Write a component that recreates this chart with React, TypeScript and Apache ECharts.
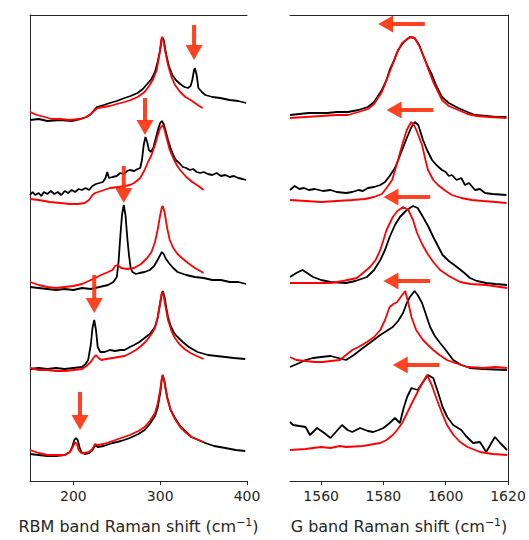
import React, { useEffect, useRef } from "react";
import * as echarts from "echarts";

// ---- RBM band (left panel), [Raman shift, stacked intensity] ----
const rbm1Black: number[][] = [[150,361],[160,362],[170,360],[185,361],[198,360],[208,362],[215,364],[219,366],[224,371],[227,374],[235,376],[242,378],[250,380],[259,383],[266,385],[274,388],[280,392],[286,398],[290,402],[294,409],[297,419],[300,431],[302,444],[304,441],[307,426],[310,415],[314,406],[318,401],[323,397],[328,394],[332,393],[335,395],[337,401],[339,411],[340,413],[342,406],[344,393],[348,389],[352,386],[360,384],[369,383],[380,381],[390,380],[399,378]];
const rbm1Red: number[][] = [[150,369],[158,366],[167,364],[175,362],[185,362],[195,361],[208,362],[215,364],[220,367],[225,371],[228,373],[235,374],[242,375],[250,377],[259,379],[266,381],[274,384],[282,389],[288,396],[292,402],[296,411],[299,426],[301,439],[302,444],[304,439],[306,429],[309,416],[313,404],[317,396],[323,389],[329,384],[335,381],[340,378],[345,375],[349,373]];
const rbm2Black: number[][] = [[150,286],[153,289],[156,286],[160,288],[163,285],[166,289],[170,287],[174,290],[178,287],[182,289],[186,286],[190,290],[194,288],[198,291],[202,289],[206,292],[210,291],[214,293],[218,291],[222,295],[226,297],[230,298],[234,299],[237,303],[239,309],[241,303],[245,304],[250,305],[254,308],[258,307],[262,310],[265,311],[270,310],[274,312],[277,313],[279,321],[281,336],[283,344],[285,339],[287,331],[289,329],[292,333],[295,343],[298,353],[300,358],[302,360],[304,357],[306,351],[309,341],[312,333],[315,326],[318,321],[322,318],[326,314],[330,313],[334,311],[338,312],[342,309],[346,308],[350,309],[355,307],[360,306],[365,308],[370,305],[375,306],[380,304],[385,305],[390,303],[395,302],[399,301]];
const rbm2Red: number[][] = [[150,282],[160,281],[173,279],[185,278],[196,277],[205,277],[213,278],[218,281],[222,286],[225,288],[232,290],[242,293],[252,294],[260,295],[265,296],[270,298],[277,303],[282,311],[286,319],[290,326],[294,336],[297,345],[300,353],[303,356],[305,351],[308,341],[311,331],[315,323],[319,316],[323,311],[330,304],[337,299],[344,295],[350,291]];
const rbm3Black: number[][] = [[150,194],[160,193],[170,192],[180,191],[190,192],[200,191],[210,193],[220,192],[230,194],[240,196],[246,199],[250,204],[252,219],[254,244],[256,266],[258,276],[260,266],[262,244],[264,226],[266,213],[268,209],[272,207],[276,208],[282,209],[288,211],[293,215],[297,221],[300,226],[302,229],[304,227],[306,223],[310,218],[315,213],[320,209],[330,206],[340,204],[350,203],[360,201],[370,201],[380,199],[390,199],[399,197]];
const rbm3Red: number[][] = [[150,199],[160,196],[170,194],[180,193],[190,194],[200,195],[210,197],[220,201],[225,203],[232,206],[240,209],[245,211],[248,215],[251,216],[255,213],[262,212],[270,213],[278,217],[285,223],[290,229],[294,239],[297,251],[300,266],[302,274],[303,275],[305,269],[308,253],[311,241],[315,233],[320,227],[325,223],[332,218],[340,213],[346,210],[350,208]];
const rbm4Black: number[][] = [[150,112],[160,113],[170,112],[180,113],[190,112],[200,113],[210,114],[214,117],[217,121],[220,136],[222,153],[224,161],[226,151],[228,134],[231,129],[236,129],[242,131],[248,130],[254,131],[259,131],[265,134],[270,136],[276,139],[282,143],[288,147],[294,154],[297,163],[300,178],[302,188],[303,190],[305,184],[307,173],[309,164],[312,155],[316,148],[320,144],[326,139],[333,134],[343,129],[355,126],[365,125],[375,124],[385,123],[398,122]];
const rbm4Red: number[][] = [[150,113],[160,111],[170,111],[180,110],[190,110],[200,111],[210,112],[215,115],[220,119],[223,123],[226,126],[229,123],[232,121],[238,122],[245,123],[252,124],[259,125],[266,128],[272,131],[278,135],[284,140],[290,147],[294,153],[297,163],[300,179],[302,189],[304,185],[306,175],[309,161],[313,150],[317,143],[322,137],[328,132],[335,128],[342,125],[350,122]];
const rbm5Black: number[][] = [[150,27],[160,26],[170,25],[180,25],[190,26],[196,29],[199,35],[201,41],[203,43],[205,41],[207,34],[209,29],[213,27],[218,28],[222,31],[225,36],[228,34],[235,35],[245,38],[255,40],[265,43],[275,47],[282,51],[288,57],[294,65],[297,73],[300,88],[302,103],[303,106],[305,99],[308,84],[312,71],[317,63],[323,55],[330,49],[336,44],[344,41],[352,38],[362,35],[375,33],[387,31],[398,30]];
const rbm5Red: number[][] = [[150,31],[160,28],[170,26],[180,26],[190,26],[196,29],[200,35],[202,39],[204,37],[206,31],[209,28],[213,28],[218,29],[222,32],[225,37],[228,36],[235,37],[245,40],[255,43],[265,46],[275,50],[282,54],[288,60],[294,68],[297,77],[300,91],[302,104],[303,106],[305,98],[308,83],[312,71],[317,62],[323,54],[330,48],[336,44],[344,41],[350,39]];

// ---- G band (right panel) ----
const g1Black: number[][] = [[1550,366],[1553,367],[1556,368],[1558,368],[1562,368],[1565,369],[1568.6,369],[1572,371],[1575,374],[1577,379],[1579.5,391],[1581,401],[1582,411],[1583.5,421],[1584.7,431],[1586.5,439],[1588.5,444],[1590,443],[1591.5,436],[1592.7,426],[1594,416],[1595.6,406],[1597,395],[1598.8,384],[1601,378],[1604,373],[1607,369],[1609.4,366],[1613,365],[1616,364],[1619.5,364]];
const g1Red: number[][] = [[1550,363],[1555,364],[1560,365],[1565,366],[1568.6,366],[1572,369],[1575,372],[1577,377],[1579.5,389],[1581,401],[1582.5,413],[1584,426],[1586,438],[1588.5,444],[1590,443],[1591.5,435],[1593,424],[1594.5,411],[1596,399],[1598.8,381],[1601,375],[1604,371],[1607,367],[1610,365],[1614,364],[1619.5,363]];
const g2Black: number[][] = [[1550,291],[1551.5,295],[1553,292],[1554.5,293],[1556,291],[1558,292],[1560.6,290],[1563,291],[1565,289],[1568,288],[1570,289],[1572,291],[1573.4,290],[1575,293],[1577,294],[1579,296],[1580.5,299],[1582,305],[1583.7,313],[1585,323],[1586,331],[1587.5,343],[1589,354],[1590.1,359],[1591.2,356],[1592.7,341],[1594,331],[1595.6,321],[1597,316],[1598.8,311],[1600,309],[1601,305],[1602,306],[1603.5,301],[1605,303],[1606.2,296],[1607.5,298],[1609.4,291],[1611,292],[1612.6,288],[1615,287],[1619.5,286]];
const g2Red: number[][] = [[1550,281],[1555,280],[1560,279],[1565,280],[1570,281],[1574,282],[1577,284],[1579.5,287],[1581,293],[1582.8,301],[1584.7,321],[1586,336],[1587.5,351],[1588.9,359],[1590,355],[1591.2,346],[1592.4,336],[1593.5,321],[1594.3,311],[1596,301],[1597.5,296],[1600,290],[1602,286],[1605,283],[1608.4,281],[1612,280],[1616,279],[1619.5,278]];
const g3Black: number[][] = [[1550,204],[1552,208],[1554,211],[1555.5,208],[1557.4,204],[1560,201],[1563,199],[1568,198],[1571,200],[1574.7,204],[1577,211],[1579,221],[1580.5,231],[1582,244],[1583.7,256],[1585.3,264],[1587.5,271],[1589.5,275],[1591,273],[1592.7,264],[1594.5,254],[1596,244],[1597.5,235],[1599,226],[1601,220],[1603.6,214],[1606,208],[1607.8,203],[1610,200],[1613,198],[1616,197],[1619.7,196]];
const g3Red: number[][] = [[1550,198],[1555,198],[1560,198],[1563,198],[1567,200],[1571.5,203],[1575.7,214],[1577.5,221],[1579,231],[1580,241],[1581,251],[1583,264],[1584.5,270],[1586.3,274],[1588,271],[1589.5,261],[1590.8,248],[1592.4,237],[1594,228],[1596,219],[1598.2,211],[1601,205],[1604.6,199],[1608,197],[1613,196],[1619.7,193]];
const g4Black: number[][] = [[1550,114],[1553,118],[1555,121],[1557.4,123],[1560,124],[1563,125],[1565.5,123],[1568,121],[1570.5,126],[1573.4,133],[1576,139],[1579,146],[1581,150],[1583,154],[1584.7,160],[1586.3,168],[1587.5,178],[1588.5,184],[1590,190],[1591,186],[1592.4,178],[1593.7,166],[1595,154],[1596.5,145],[1598.2,138],[1600,131],[1602.4,121],[1605,116],[1607.8,113],[1612,112],[1619.7,111]];
const g4Red: number[][] = [[1550,124],[1552,121],[1555,120],[1558,119],[1560.6,119],[1563,120],[1566,121],[1568,126],[1570,131],[1572,134],[1574.7,139],[1577,144],[1579,151],[1580.5,161],[1582,174],[1583.2,177],[1584.4,179],[1585.8,185],[1587,190],[1588,178],[1589,164],[1590.5,151],[1592.7,141],[1594.3,136],[1596,131],[1598,126],[1600.4,121],[1603,118],[1607,114],[1612,113],[1616,114],[1619.7,113]];
const g5Black: number[][] = [[1550,59],[1551,56],[1553,55],[1555,54],[1556.4,46],[1558.7,53],[1561,48],[1563,43],[1565,50],[1566.7,56],[1568.5,51],[1570,49],[1572.5,53],[1575,50],[1576.7,49],[1578.5,51],[1580,53],[1582,58],[1583.7,63],[1585.3,58],[1586.5,73],[1587.6,84],[1589,93],[1591,91],[1592.5,98],[1594.3,106],[1596,103],[1597.5,89],[1599,74],[1600.5,64],[1602.4,56],[1605,51],[1606.5,45],[1608.8,38],[1611,39],[1613,29],[1615.8,44],[1617.5,38],[1619.7,31]];
const g5Red: number[][] = [[1550,31],[1555,32],[1560,34],[1563,33],[1566,35],[1568,34],[1573.4,35],[1577,37],[1579,38],[1581,41],[1583,46],[1584.4,51],[1586,58],[1587.6,68],[1589,77],[1590.8,88],[1592.5,98],[1594,106],[1595.5,96],[1597.2,81],[1598.8,68],[1600.4,56],[1602.5,46],[1604.6,39],[1607,34],[1611,29],[1615,27],[1619.7,26]];

// arrows: [x start, y start, x tip, y tip]
const rbmArrows: number[][] = [[339,456,339,421],[282.5,383,282.5,346],[258,315,258,278],[224,206,224,168],[207.6,89,207.6,51]];
const gArrows: number[][] = [[1593.3,457,1578.3,457],[1596,371,1581,371],[1595,284,1580,284],[1595,200,1580,200],[1598,116,1583,116]];

const rbmTicks = [200, 300, 400];
const gTicks = [1560, 1580, 1600, 1620];

const FONT = "DejaVu Sans";
const AXIS_COLOR = "#262626";
const ARROW_COLOR = "rgba(255,45,10,0.9)";

function lineSeries(data: number[][], color: string, axis: number) {
  return {
    type: "line",
    data,
    xAxisIndex: axis * 2,
    yAxisIndex: axis,
    showSymbol: false,
    symbol: "none",
    lineStyle: { color, width: 1.8 },
    silent: true,
    z: color === "#000" ? 2 : 3,
  };
}

function arrowSeries(data: number[][], axis: number) {
  return {
    type: "custom",
    xAxisIndex: axis * 2,
    yAxisIndex: axis,
    data,
    z: 5,
    silent: true,
    encode: { x: [0, 2], y: [1, 3] },
    renderItem: (params: any, api: any) => {
      const p0 = api.coord([api.value(0), api.value(1)]);
      const p1 = api.coord([api.value(2), api.value(3)]);
      const dx = p1[0] - p0[0];
      const dy = p1[1] - p0[1];
      const len = Math.sqrt(dx * dx + dy * dy) || 1;
      const ux = dx / len, uy = dy / len;
      const nx = -uy, ny = ux;
      const headL = 15, headW = 8.5;
      const bx = p1[0] - ux * headL, by = p1[1] - uy * headL;
      return {
        type: "group",
        children: [
          {
            type: "line",
            shape: { x1: p0[0], y1: p0[1], x2: bx + ux * 1, y2: by + uy * 1 },
            style: { stroke: ARROW_COLOR, lineWidth: 4 },
          },
          {
            type: "polygon",
            shape: { points: [[p1[0], p1[1]], [bx + nx * headW, by + ny * headW], [bx - nx * headW, by - ny * headW]] },
            style: { fill: ARROW_COLOR },
          },
        ],
      };
    },
  };
}

function bottomAxis(grid: number, min: number, max: number, ticks: number[], name: string) {
  return {
    type: "value",
    gridIndex: grid,
    position: "bottom",
    min,
    max,
    axisLine: { show: true, onZero: false, lineStyle: { color: AXIS_COLOR, width: 1 } },
    axisTick: { show: true, inside: false, length: 4, customValues: ticks, lineStyle: { color: AXIS_COLOR } },
    axisLabel: {
      show: true,
      margin: 8,
      customValues: ticks,
      formatter: (v: number) => String(v),
      fontFamily: FONT,
      fontSize: 14,
      color: "#262626",
      showMinLabel: true,
      showMaxLabel: true,
    },
    splitLine: { show: false },
    name,
    nameLocation: "middle",
    nameGap: 36,
    nameTextStyle: {
      fontFamily: FONT,
      fontSize: 16,
      color: "#262626",
      rich: {
        sup: { fontFamily: FONT, fontSize: 11, color: "#262626", verticalAlign: "top", padding: [0, 0, 7, 0] },
      },
    },
  };
}

function topAxis(grid: number, min: number, max: number) {
  return {
    type: "value",
    gridIndex: grid,
    position: "top",
    min,
    max,
    axisLine: { show: true, onZero: false, lineStyle: { color: AXIS_COLOR, width: 1 } },
    axisTick: { show: false },
    axisLabel: { show: false },
    splitLine: { show: false },
  };
}

function sideAxis(grid: number, position: string) {
  return {
    type: "value",
    gridIndex: grid,
    position,
    min: 0,
    max: 466,
    axisLine: { show: true, onZero: false, lineStyle: { color: AXIS_COLOR, width: 1 } },
    axisTick: { show: false },
    axisLabel: { show: false },
    splitLine: { show: false },
  };
}

export default function App() {
  const ref = useRef<HTMLDivElement>(null);
  useEffect(() => {
    if (!ref.current) return;
    const chart = echarts.init(ref.current, null, { renderer: "svg" });
    chart.setOption({
      animation: false,
      backgroundColor: "#fff",
      grid: [
        { left: 30, right: 282, top: 15, bottom: 59 },
        { left: 290, right: 21, top: 15, bottom: 59 },
      ],
      xAxis: [
        bottomAxis(0, 150, 400, rbmTicks, "RBM band Raman shift (cm{sup|−1})"),
        topAxis(0, 150, 400),
        bottomAxis(1, 1550, 1620, gTicks, "G band Raman shift (cm{sup|−1})"),
        topAxis(1, 1550, 1620),
      ],
      yAxis: [sideAxis(0, "left"), sideAxis(1, "right")],
      series: [
        lineSeries(rbm1Black, "#000", 0),
        lineSeries(rbm1Red, "#ff0000", 0),
        lineSeries(rbm2Black, "#000", 0),
        lineSeries(rbm2Red, "#ff0000", 0),
        lineSeries(rbm3Black, "#000", 0),
        lineSeries(rbm3Red, "#ff0000", 0),
        lineSeries(rbm4Black, "#000", 0),
        lineSeries(rbm4Red, "#ff0000", 0),
        lineSeries(rbm5Black, "#000", 0),
        lineSeries(rbm5Red, "#ff0000", 0),
        lineSeries(g1Black, "#000", 1),
        lineSeries(g1Red, "#ff0000", 1),
        lineSeries(g2Black, "#000", 1),
        lineSeries(g2Red, "#ff0000", 1),
        lineSeries(g3Black, "#000", 1),
        lineSeries(g3Red, "#ff0000", 1),
        lineSeries(g4Black, "#000", 1),
        lineSeries(g4Red, "#ff0000", 1),
        lineSeries(g5Black, "#000", 1),
        lineSeries(g5Red, "#ff0000", 1),
        arrowSeries(rbmArrows, 0),
        arrowSeries(gArrows, 1),
      ],
    });
    return () => chart.dispose();
  }, []);
  return <div ref={ref} style={{ position: "fixed", left: 0, top: 0, width: 529, height: 540 }} />;
}
